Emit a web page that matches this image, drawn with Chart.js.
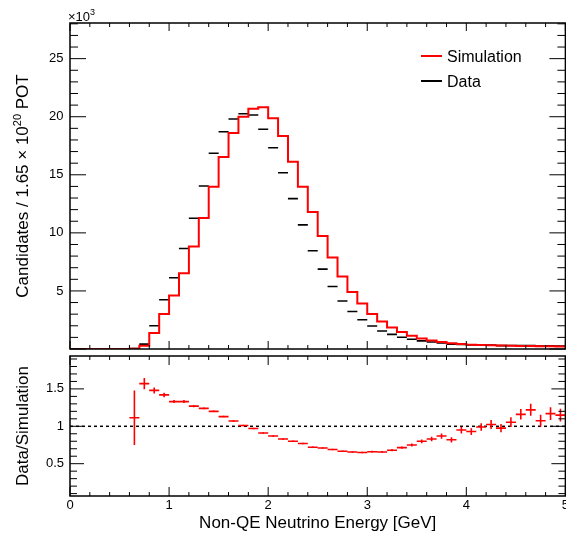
<!DOCTYPE html>
<html>
<head>
<meta charset="utf-8">
<script src="https://cdn.jsdelivr.net/npm/chart.js@4.4.1/dist/chart.umd.min.js"></script>
<style>
  html, body { margin: 0; padding: 0; background: #fff; }
  #wrap { position: relative; width: 566px; height: 538px; overflow: hidden; }
  #wrap canvas { position: absolute; left: 0; top: 0; }
</style>
</head>
<body>
<div id="wrap">
  <canvas id="topPad" width="572" height="538"></canvas>
  <canvas id="ratioPad" width="572" height="538"></canvas>
</div>
<script>
// bin edges of the energy histogram (GeV)
const binEdges = [
  0.0, 0.1, 0.2, 0.3, 0.4, 0.5, 0.6, 0.7, 0.8, 0.9,
  1.0, 1.1, 1.2, 1.3, 1.4, 1.5, 1.6, 1.7, 1.8, 1.9,
  2.0, 2.1, 2.2, 2.3, 2.4, 2.5, 2.6, 2.7, 2.8, 2.9,
  3.0, 3.1, 3.2, 3.3, 3.4, 3.5, 3.6, 3.7, 3.8, 3.9,
  4.0, 4.1, 4.2, 4.3, 4.4, 4.5, 4.6, 4.7, 4.8, 4.9, 5.0
];

// candidates per bin, in units of 10^3
const simulation = [
  0, 0, 0, 0, 0, 0, 0.03, 0.27, 1.38, 3.01,
  4.61, 6.53, 8.82, 11.29, 13.98, 16.53, 18.6, 20.0, 20.69, 20.81,
  19.86, 18.34, 16.13, 13.98, 11.8, 9.74, 7.88, 6.24, 4.9, 3.92,
  3.01, 2.37, 1.86, 1.46, 1.14, 0.91, 0.74, 0.6, 0.5, 0.42,
  0.37, 0.34, 0.32, 0.3, 0.28, 0.26, 0.25, 0.24, 0.23, 0.22
];
const data = [
  null, null, null, null, null, null, 0.03, 0.42, 2.0, 4.24,
  6.13, 8.65, 11.26, 14.04, 16.85, 18.71, 19.8, 20.26, 20.15, 18.92,
  17.33, 15.18, 12.95, 10.69, 8.46, 6.88, 5.38, 4.13, 3.23, 2.52,
  1.98, 1.55, 1.26, 1.01, 0.84, 0.7, 0.6, 0.52, 0.41, 0.4,
  0.34, 0.34, 0.33, 0.29, 0.3, 0.3, 0.3, 0.26, 0.27, 0.25
];

// data / simulation and its error
const ratio = [
  null, null, null, null, null, null, 1.115, 1.57, 1.48, 1.42,
  1.33, 1.33, 1.27, 1.24, 1.20, 1.13, 1.07, 1.01, 0.97, 0.91,
  0.87, 0.83, 0.80, 0.77, 0.72, 0.71, 0.69, 0.667, 0.657, 0.65,
  0.66, 0.657, 0.68, 0.715, 0.75, 0.80, 0.83, 0.87, 0.82, 0.95,
  0.93, 0.99, 1.025, 0.975, 1.055, 1.16, 1.22, 1.075, 1.17, 1.15
];
const ratioErr = [
  0, 0, 0, 0, 0, 0, 0.365, 0.075, 0.04, 0.03,
  0.02, 0.02, 0.015, 0.012, 0.01, 0.01, 0.01, 0.01, 0.01, 0.01,
  0.01, 0.01, 0.01, 0.01, 0.01, 0.01, 0.01, 0.01, 0.01, 0.01,
  0.012, 0.012, 0.015, 0.015, 0.02, 0.025, 0.03, 0.035, 0.035, 0.045,
  0.045, 0.05, 0.06, 0.055, 0.065, 0.07, 0.08, 0.08, 0.085, 0.085
];

const xTickLabels = ['0', '1', '2', '3', '4', '5'];
const topYTicks = [5, 10, 15, 20, 25];
const ratioYTicks = [0.5, 1, 1.5];

const FONT = "'Liberation Sans', Arial, Helvetica, sans-serif";
Chart.defaults.font.family = FONT;
Chart.defaults.font.size = 13;
Chart.defaults.color = '#000';

// histogram outline: one point per low edge plus the closing edge
const simStep = binEdges.map((e, i) => ({ x: e, y: simulation[Math.min(i, simulation.length - 1)] }));
const centers = simulation.map((_, i) => (binEdges[i] + binEdges[i + 1]) / 2);
const dataPts = data.map((v, i) => ({ x: centers[i], y: v })).filter(p => p.y !== null);
const ratioPts = ratio.map((v, i) => ({ x: centers[i], y: v, e: ratioErr[i] })).filter(p => p.y !== null);

function drawRun(ctx, parts, x, y) {
  let cx = x;
  parts.forEach(p => {
    ctx.font = p.size + 'px ' + FONT;
    ctx.fillText(p.text, cx, y - (p.rise || 0));
    cx += ctx.measureText(p.text).width;
  });
}
function runWidth(ctx, parts) {
  let w = 0;
  parts.forEach(p => { ctx.font = p.size + 'px ' + FONT; w += ctx.measureText(p.text).width; });
  return w;
}
function drawYTitle(ctx, parts, x, yc) {
  ctx.save();
  ctx.translate(x, yc);
  ctx.rotate(-Math.PI / 2);
  ctx.textBaseline = 'alphabetic';
  ctx.textAlign = 'left';
  drawRun(ctx, parts, -runWidth(ctx, parts) / 2, 0);
  ctx.restore();
}

// ROOT-like frame: box plus inward ticks on all four sides
function drawFrame(chart, yTicks, t) {
  const { ctx, chartArea: a, scales: { x, y } } = chart;
  ctx.save();
  ctx.strokeStyle = '#000';
  ctx.lineWidth = 1;
  ctx.beginPath();
  for (let i = 0; i <= 25; i++) {
    const px = x.getPixelForValue(i * 0.2);
    const len = i % 5 === 0 ? t.xMajor : t.xMinor;
    ctx.moveTo(px, a.bottom); ctx.lineTo(px, a.bottom - len);
    ctx.moveTo(px, a.top); ctx.lineTo(px, a.top + len);
  }
  yTicks.forEach(tk => {
    const py = y.getPixelForValue(tk.v);
    const len = tk.major ? t.yMajor : t.yMinor;
    ctx.moveTo(a.left, py); ctx.lineTo(a.left + len, py);
    ctx.moveTo(a.right, py); ctx.lineTo(a.right - len, py);
  });
  ctx.stroke();
  ctx.lineWidth = 1.5;
  ctx.strokeRect(a.left, a.top, a.right - a.left, a.bottom - a.top);
  ctx.restore();
}

const topTickList = [];
for (let i = 0; i <= 28; i++) topTickList.push({ v: i, major: i % 5 === 0 });
const ratioTickList = [];
for (let i = 1; i <= 19; i++) ratioTickList.push({ v: i / 10, major: i % 5 === 0 });

const topDecor = {
  id: 'topDecor',
  afterDatasetsDraw(chart) {
    const ctx = chart.ctx;
    drawFrame(chart, topTickList, { xMajor: 8, xMinor: 4, yMajor: 16, yMinor: 8 });
    ctx.save();
    ctx.fillStyle = '#000';
    ctx.textBaseline = 'alphabetic';
    drawRun(ctx, [{ text: '\u00d710', size: 13 }, { text: '3', size: 9, rise: 6 }], 68, 21);
    drawYTitle(ctx, [
      { text: 'Candidates / 1.65 \u00d7 10', size: 17 },
      { text: '20', size: 11, rise: 7 },
      { text: ' POT', size: 17 }
    ], 28, 186);
    // legend
    ctx.font = '16px ' + FONT;
    chart.data.datasets.forEach((ds, i) => {
      const ly = 56 + i * 25;
      ctx.strokeStyle = ds.borderColor;
      ctx.lineWidth = 2;
      ctx.beginPath(); ctx.moveTo(421, ly); ctx.lineTo(442, ly); ctx.stroke();
      ctx.fillText(ds.label, 447, ly + 5.5);
    });
    ctx.restore();
  }
};

const ratioDecor = {
  id: 'ratioDecor',
  afterDatasetsDraw(chart) {
    const { ctx, scales: { x, y } } = chart;
    ctx.save();
    ctx.strokeStyle = '#ff0000';
    ctx.lineWidth = 1.6;
    ctx.beginPath();
    ratioPts.forEach(p => {
      if (p.e <= 0) return;
      const px = x.getPixelForValue(p.x);
      ctx.moveTo(px, y.getPixelForValue(p.y + p.e));
      ctx.lineTo(px, y.getPixelForValue(p.y - p.e));
    });
    ctx.stroke();
    ctx.restore();
    drawFrame(chart, ratioTickList, { xMajor: 9, xMinor: 4, yMajor: 14, yMinor: 7 });
    ctx.save();
    ctx.fillStyle = '#000';
    ctx.textAlign = 'center';
    ctx.textBaseline = 'alphabetic';
    ctx.font = '17px ' + FONT;
    const a = chart.chartArea;
    ctx.fillText('Non-QE Neutrino Energy [GeV]', (a.left + a.right) / 2, 528);
    drawYTitle(ctx, [{ text: 'Data/Simulation', size: 17 }], 28, 426);
    ctx.restore();
  }
};

new Chart(document.getElementById('topPad'), {
  type: 'line',
  data: {
    datasets: [
      { label: 'Simulation', data: simStep, stepped: 'before', borderColor: '#ff0000',
        borderWidth: 2, pointRadius: 0, fill: false },
      { label: 'Data', data: dataPts, showLine: false, borderColor: '#000000',
        pointStyle: 'line', pointRadius: 5, pointBorderWidth: 1.6, pointBorderColor: '#000000' }
    ]
  },
  options: {
    responsive: false,
    animation: false,
    events: [],
    layout: { padding: { left: 0, top: 23, right: 4, bottom: 189 } },
    plugins: { legend: { display: false }, tooltip: { enabled: false } },
    scales: {
      x: { type: 'linear', min: 0, max: 5, display: false },
      y: {
        min: 0, max: 28.07,
        afterFit: s => { s.width = 70; },
        afterBuildTicks: s => { s.ticks = topYTicks.map(v => ({ value: v })); },
        grid: { display: false, drawTicks: false },
        border: { display: false },
        ticks: { padding: 6.5, font: { size: 13 }, callback: v => String(v) }
      }
    }
  },
  plugins: [topDecor]
});

new Chart(document.getElementById('ratioPad'), {
  type: 'line',
  data: {
    datasets: [
      { label: 'Data/Simulation', data: ratioPts, showLine: false, borderColor: '#ff0000',
        pointStyle: 'line', pointRadius: 5, pointBorderWidth: 1.6, pointBorderColor: '#ff0000' },
      { label: 'unity', data: [{ x: 0, y: 1 }, { x: 5, y: 1 }], borderColor: '#000000',
        borderWidth: 1.5, borderDash: [3, 3], pointRadius: 0, fill: false }
    ]
  },
  options: {
    responsive: false,
    animation: false,
    events: [],
    layout: { padding: { left: 0, top: 356, right: 4, bottom: 0 } },
    plugins: { legend: { display: false }, tooltip: { enabled: false } },
    scales: {
      x: {
        type: 'linear', min: 0, max: 5,
        afterFit: s => { s.height = 42; },
        afterBuildTicks: s => { s.ticks = xTickLabels.map(t => ({ value: Number(t) })); },
        grid: { display: false, drawTicks: false },
        border: { display: false },
        ticks: { padding: 2, maxRotation: 0, autoSkip: false, font: { size: 13 },
                 callback: (v, i) => xTickLabels[i] }
      },
      y: {
        min: 0.068, max: 1.94,
        afterFit: s => { s.width = 70; },
        afterBuildTicks: s => { s.ticks = ratioYTicks.map(v => ({ value: v })); },
        grid: { display: false, drawTicks: false },
        border: { display: false },
        ticks: { padding: 6, font: { size: 13 }, callback: v => String(v) }
      }
    }
  },
  plugins: [ratioDecor]
});
</script>
</body>
</html>
